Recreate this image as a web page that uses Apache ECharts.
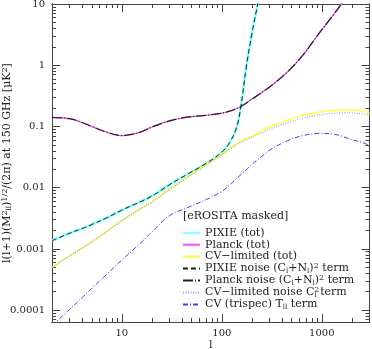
<!DOCTYPE html>
<html>
<head>
<meta charset="utf-8">
<script src="https://cdn.jsdelivr.net/npm/echarts@6/dist/echarts.min.js"></script>
<style>
  html, body { margin: 0; padding: 0; background: #fff; }
  #chart { width: 372px; height: 349px; }
</style>
</head>
<body>
<div id="chart"></div>
<script>
// multipole l
var ell = [2, 3, 4, 5, 7, 10, 15, 20, 30, 45, 70, 100, 120, 140, 155, 175, 200, 230, 260, 300, 450, 650, 950, 1300, 1600, 2000, 2500, 3000];

var pixieTot = [0.00136, 0.0018, 0.00215, 0.0025, 0.0032, 0.0043, 0.0058, 0.0073, 0.0112, 0.0165, 0.025, 0.038, 0.055, 0.095, 0.21, 0.9, 3.3, 10.5, 30, null, null, null, null, null, null, null, null, null];
var planckTot = [0.140, 0.134, 0.116, 0.100, 0.081, 0.071, 0.080, 0.098, 0.123, 0.142, 0.152, 0.165, 0.178, 0.195, 0.212, 0.24, 0.28, 0.325, 0.375, 0.44, 0.77, 1.48, 3.4, 6.6, 10.4, 18, null, null];
var cvTot = [0.0005, 0.00077, 0.00103, 0.0013, 0.0019, 0.0029, 0.0044, 0.0059, 0.0095, 0.0150, 0.0240, 0.0355, 0.044, 0.052, 0.057, 0.063, 0.070, 0.079, 0.087, 0.098, 0.127, 0.153, 0.172, 0.182, 0.187, 0.187, 0.178, 0.166];
var pixieNoise = [0.00136, 0.0018, 0.00215, 0.0025, 0.0032, 0.0043, 0.0058, 0.0073, 0.0112, 0.0165, 0.025, 0.038, 0.055, 0.095, 0.21, 0.9, 3.3, 10.5, 30, null, null, null, null, null, null, null, null, null];
var planckNoise = [0.140, 0.134, 0.116, 0.100, 0.081, 0.071, 0.080, 0.098, 0.123, 0.142, 0.152, 0.165, 0.178, 0.195, 0.212, 0.24, 0.28, 0.325, 0.375, 0.44, 0.77, 1.48, 3.4, 6.6, 10.4, 18, null, null];
var cvNoise = [0.0005, 0.00077, 0.00103, 0.0013, 0.0019, 0.0029, 0.0044, 0.0058, 0.0093, 0.0146, 0.0233, 0.0345, 0.0425, 0.050, 0.0545, 0.060, 0.0665, 0.074, 0.081, 0.090, 0.115, 0.137, 0.155, 0.163, 0.167, 0.166, 0.161, 0.154];
var cvTrispec = [0.000056, 0.000103, 0.00016, 0.000226, 0.00038, 0.00066, 0.0012, 0.0019, 0.0035, 0.0047, 0.0064, 0.0087, 0.0111, 0.0140, 0.0164, 0.0195, 0.024, 0.029, 0.034, 0.041, 0.058, 0.071, 0.077, 0.075, 0.069, 0.061, 0.055, 0.0495];

var xMajor = [10, 100, 1000];
var xMinor = [3, 4, 5, 6, 7, 8, 9, 20, 30, 40, 50, 60, 70, 80, 90, 200, 300, 400, 500, 600, 700, 800, 900, 2000];
var yMajor = [0.0001, 0.001, 0.01, 0.1, 1, 10];
var yMinor = [7e-5, 8e-5, 9e-5, 2e-4, 3e-4, 4e-4, 5e-4, 6e-4, 7e-4, 8e-4, 9e-4,
  0.002, 0.003, 0.004, 0.005, 0.006, 0.007, 0.008, 0.009, 0.02, 0.03, 0.04, 0.05, 0.06, 0.07, 0.08, 0.09,
  0.2, 0.3, 0.4, 0.5, 0.6, 0.7, 0.8, 0.9, 2, 3, 4, 5, 6, 7, 8, 9];

var names = ['PIXIE (tot)', 'Planck (tot)', 'CV-limited (tot)', 'PIXIE noise', 'Planck noise', 'CV-limited noise', 'CV (trispec)'];
var legendText = {
  'PIXIE (tot)': 'PIXIE (tot)',
  'Planck (tot)': 'Planck (tot)',
  'CV-limited (tot)': 'CV\u2212limited (tot)',
  'PIXIE noise': 'PIXIE noise (C{sub|l}+N{sub|l}){sup|2} term',
  'Planck noise': 'Planck noise (C{sub|l}+N{sub|l}){sup|2} term',
  'CV-limited noise': 'CV\u2212limited noise C{sup|2}{sub2|l} term',
  'CV (trispec)': 'CV (trispec) T{sub|ll} term'
};

var FONT = 'DejaVu Serif';
var INK = '#222';
var rich = {
  sub: { fontFamily: FONT, fontSize: 7, color: INK, verticalAlign: 'bottom', lineHeight: 12 },
  sub2: { fontFamily: FONT, fontSize: 7, color: INK, verticalAlign: 'bottom', lineHeight: 12, padding: [0, 0, 0, -5] },
  sup: { fontFamily: FONT, fontSize: 8, color: INK, verticalAlign: 'top', lineHeight: 12 }
};

function xAxisDef(pos, ticks, len, labels) {
  return {
    type: 'log', min: 2, max: 3000, position: pos,
    axisLine: { show: true, onZero: false, lineStyle: { color: '#444', width: 1 } },
    axisTick: { show: true, inside: true, length: len, customValues: ticks, lineStyle: { color: '#444' } },
    axisLabel: labels ? {
      show: true, customValues: xMajor, margin: 6, fontFamily: FONT, fontSize: 10, color: INK,
      formatter: function (v) { return String(Math.round(v)); }
    } : { show: false },
    splitLine: { show: false }, minorTick: { show: false },
    name: labels ? 'l' : '', nameLocation: 'middle', nameGap: 18, nameMoveOverlap: false,
    nameTextStyle: { fontFamily: FONT, fontSize: 11, color: INK }
  };
}
function yAxisDef(pos, ticks, len, labels) {
  return {
    type: 'log', min: 6.4e-5, max: 10, position: pos,
    axisLine: { show: true, onZero: false, lineStyle: { color: '#444', width: 1 } },
    axisTick: { show: true, inside: true, length: len, customValues: ticks, lineStyle: { color: '#444' } },
    axisLabel: labels ? {
      show: true, customValues: yMajor, margin: 7, fontFamily: FONT, fontSize: 10, color: INK,
      formatter: function (v) { return String(+Number(v).toPrecision(1)); }
    } : { show: false },
    splitLine: { show: false }, minorTick: { show: false },
    name: labels ? 'l(l+1)(M{sup|2}{sub|ll}){sup|1/2}/(2\u03c0) at 150 GHz [\u03bcK{sup|2}]' : '',
    nameLocation: 'middle', nameGap: 39, nameRotate: 90, nameMoveOverlap: false,
    nameTextStyle: { fontFamily: FONT, fontSize: 11, color: INK, rich: rich }
  };
}

function pts(vals) {
  return ell.map(function (l, i) { return [l, vals[i]]; });
}

function line(name, vals, color, width, type, z) {
  return {
    name: name, type: 'line', data: pts(vals), xAxisIndex: 0, yAxisIndex: 0,
    showSymbol: false, symbol: 'none', smooth: 0.4, z: z,
    lineStyle: { color: color, width: width, type: type },
    itemStyle: { color: color }
  };
}

var chart = echarts.init(document.getElementById('chart'));
chart.setOption({
  animation: false,
  grid: { left: 52, right: 2.5, top: 4, bottom: 27, outerBoundsMode: 'none' },
  title: {
    text: '[eROSITA masked]', left: 183, top: 211, padding: 0,
    textStyle: { fontFamily: FONT, fontSize: 11, fontWeight: 'normal', color: INK }
  },
  legend: {
    data: names, orient: 'vertical', left: 182, top: 227, padding: 0,
    itemWidth: 17, itemHeight: 2, itemGap: 0,
    itemStyle: { opacity: 0 },
    textStyle: { fontFamily: FONT, fontSize: 11, color: INK, lineHeight: 11.8, rich: rich },
    formatter: function (n) { return legendText[n]; }
  },
  xAxis: [
    xAxisDef('bottom', xMajor, 8, true),
    xAxisDef('bottom', xMinor, 4, false),
    xAxisDef('top', xMajor, 8, false),
    xAxisDef('top', xMinor, 4, false)
  ],
  yAxis: [
    yAxisDef('left', yMajor, 8, true),
    yAxisDef('left', yMinor, 4, false),
    yAxisDef('right', yMajor, 8, false),
    yAxisDef('right', yMinor, 4, false)
  ],
  series: [
    line('PIXIE (tot)', pixieTot, '#80ffff', 2.5, 'solid', 2),
    line('Planck (tot)', planckTot, '#ff4dff', 1.3, 'solid', 2),
    line('CV-limited (tot)', cvTot, '#ffff33', 1.5, 'solid', 2),
    line('PIXIE noise', pixieNoise, '#222222', 1, [5, 3], 3),
    line('Planck noise', planckNoise, '#222222', 1.2, [10, 2, 1, 2], 3),
    line('CV-limited noise', cvNoise, '#9a9aff', 1.2, [1, 1.5], 3),
    line('CV (trispec)', cvTrispec, '#3c3cff', 1, [5, 2, 1, 2], 3)
  ]
});
</script>
</body>
</html>
